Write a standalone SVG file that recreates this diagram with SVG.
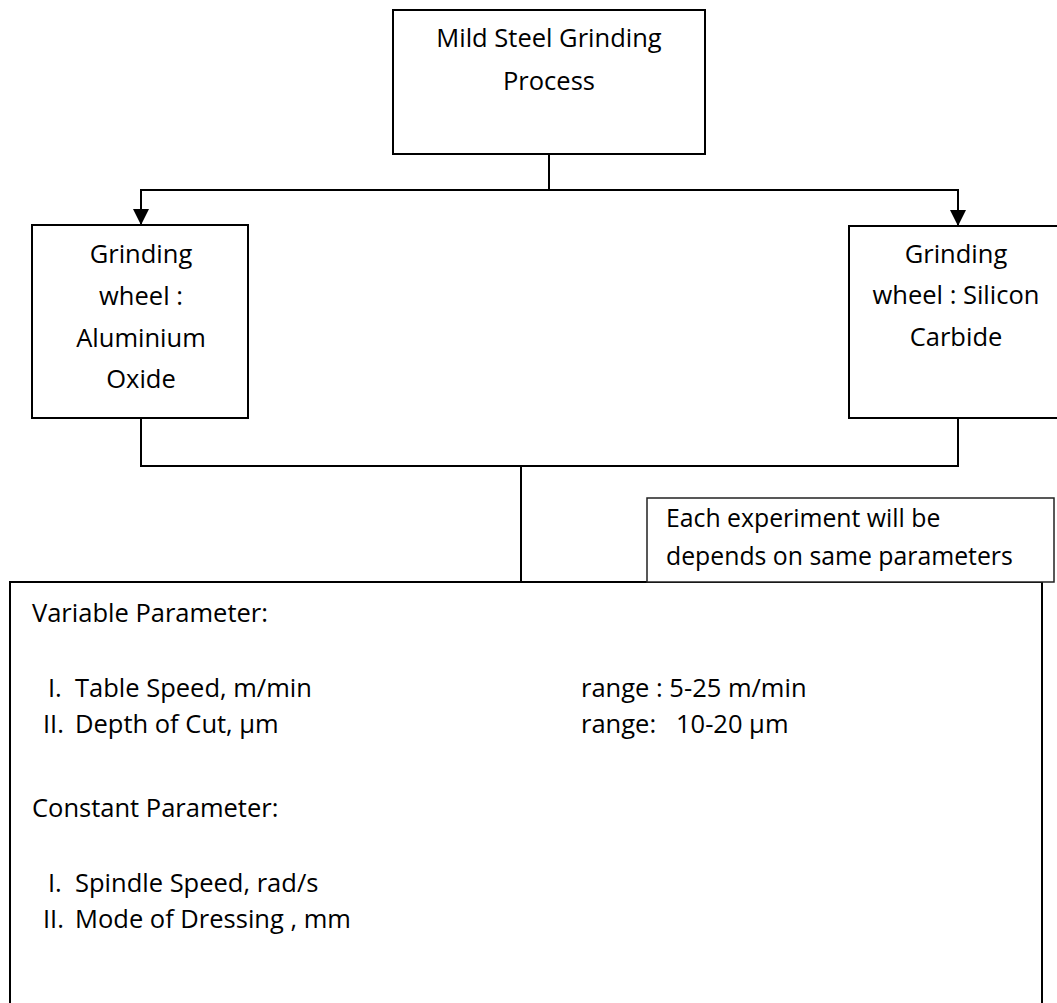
<svg xmlns="http://www.w3.org/2000/svg" width="1057" height="1003" viewBox="0 0 1057 1003">
<style>
.box{fill:#fff;stroke:#000;stroke-width:2}
.note{fill:#fff;stroke:#222;stroke-width:1.5}
.t{font-family:"Open Sans","Liberation Sans",sans-serif;font-size:25.5px;fill:#000}
.n{font-size:24.8px}
.c{text-anchor:middle}
.ln{fill:none;stroke:#000;stroke-width:2}
</style>
<defs>
<marker id="ah" markerWidth="16" markerHeight="16" viewBox="0 0 16 16" refX="16" refY="8" orient="auto" markerUnits="userSpaceOnUse">
<path d="M0,0 L16,8 L0,16 Z" fill="#000"/>
</marker>
</defs>
<rect width="1057" height="1003" fill="#fff"/>
<g id="connectors">
<path class="ln" d="M549,154 V190"/>
<path class="ln" d="M549,190 H141 V225" marker-end="url(#ah)"/>
<path class="ln" d="M549,190 H958 V226" marker-end="url(#ah)"/>
<path class="ln" d="M141,418 V466 H958 V418"/>
<path class="ln" d="M521,466 V582"/>
</g>
<g id="process">
<rect class="box" x="393" y="10" width="312" height="144"/>
<text class="t c" x="549" y="47">Mild Steel Grinding</text>
<text class="t c" x="549" y="90">Process</text>
</g>
<g id="aluminium">
<rect class="box" x="32" y="225" width="216" height="193"/>
<text class="t c" x="141" y="263">Grinding</text>
<text class="t c" x="141" y="305">wheel :</text>
<text class="t c" x="141" y="347">Aluminium</text>
<text class="t c" x="141" y="388">Oxide</text>
</g>
<g id="silicon">
<rect class="box" x="849" y="226" width="215" height="192"/>
<text class="t c" x="956" y="263">Grinding</text>
<text class="t c" x="956" y="304">wheel : Silicon</text>
<text class="t c" x="956" y="346">Carbide</text>
</g>
<g id="parameters">
<rect class="box" x="10" y="582" width="1032" height="440"/>
<text class="t" x="32" y="622">Variable Parameter:</text>
<text class="t" x="48" y="697">I.</text>
<text class="t" x="75" y="697">Table Speed, m/min</text>
<text class="t" x="581" y="697">range : 5-25 m/min</text>
<text class="t" x="43" y="733">II.</text>
<text class="t" x="75" y="733">Depth of Cut, µm</text>
<text class="t" x="581" y="733" xml:space="preserve">range:   10-20 µm</text>
<text class="t" x="32" y="817">Constant Parameter:</text>
<text class="t" x="48" y="892">I.</text>
<text class="t" x="75" y="892">Spindle Speed, rad/s</text>
<text class="t" x="43" y="928">II.</text>
<text class="t" x="75" y="928">Mode of Dressing , mm</text>
</g>
<g id="note">
<rect class="note" x="647" y="498" width="407" height="84"/>
<text class="t n" x="666" y="527">Each experiment will be</text>
<text class="t n" x="666" y="565">depends on same parameters</text>
</g>
</svg>
